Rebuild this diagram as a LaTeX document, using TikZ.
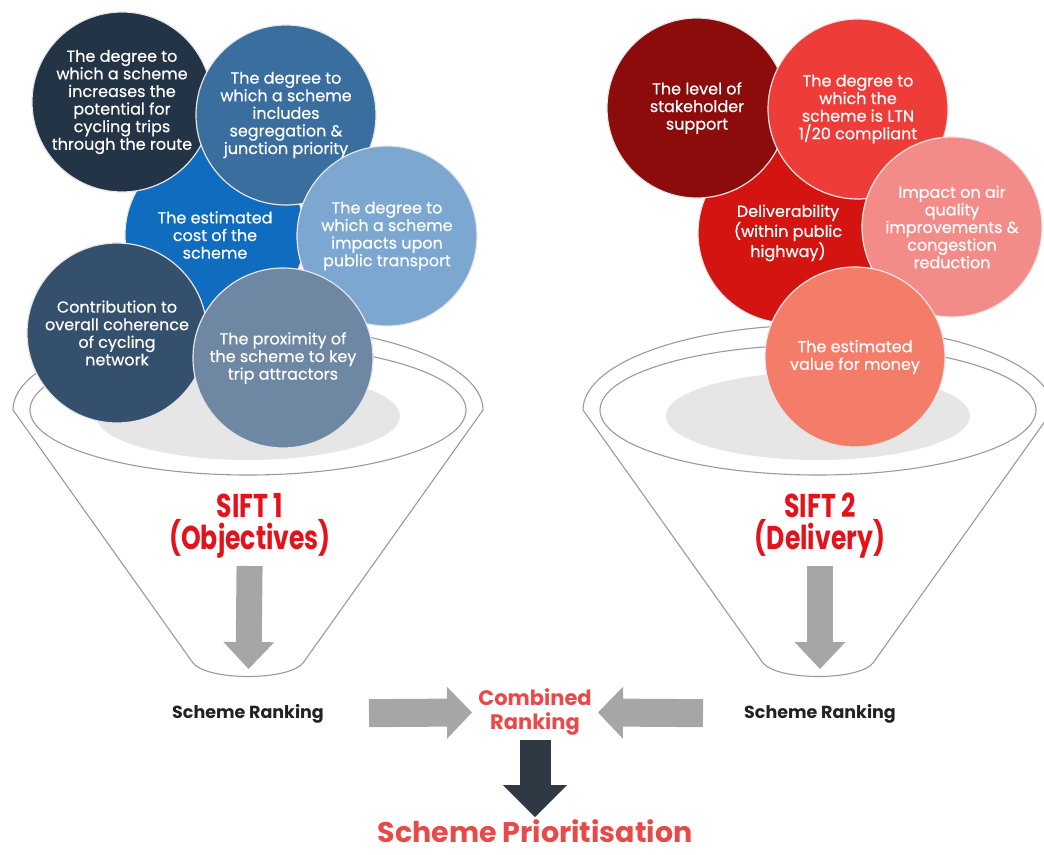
\documentclass[tikz,border=0pt]{standalone}
\usepackage{fontspec}
\setmainfont{Poppins}
\newfontfamily\bubblefont[FakeBold=0.5]{Poppins}
\newfontfamily\siftfont[FakeStretch=0.76]{Poppins}
\usetikzlibrary{arrows.meta,positioning}
\definecolor{bnavy}{HTML}{243447}
\definecolor{bsteel}{HTML}{3A6E9E}
\definecolor{bbright}{HTML}{106CBE}
\definecolor{blight}{HTML}{7BA7D0}
\definecolor{bslate}{HTML}{34506D}
\definecolor{bgreyblue}{HTML}{6E87A2}
\definecolor{rdark}{HTML}{8C0B0B}
\definecolor{rmid}{HTML}{EE3D39}
\definecolor{rbright}{HTML}{D41411}
\definecolor{rpink}{HTML}{F38C88}
\definecolor{rcoral}{HTML}{F47D6A}
\definecolor{funnelgrey}{HTML}{9A9A9A}
\definecolor{shadowgrey}{HTML}{E6E6E6}
\definecolor{siftred}{HTML}{E3121B}
\definecolor{combred}{HTML}{E84A4A}
\definecolor{rankgrey}{HTML}{222222}
\definecolor{arrowgrey}{HTML}{A6A6A6}
\definecolor{arrowdark}{HTML}{2F3943}

\begin{document}
\begin{tikzpicture}[x=1pt,y=-1pt,
    bubble/.style={circle,minimum size=180pt,inner sep=0pt,draw=white!90!black,line width=1.2pt,
      text=white,align=center,font=\bubblefont\fontsize{16}{17.6}\selectfont},
    funnel/.style={draw=funnelgrey,line width=1.1pt},
    sift/.style={text=siftred,align=center,inner sep=0pt,font=\siftfont\bfseries\fontsize{33}{32}\selectfont},
    rank/.style={text=rankgrey,inner sep=0pt,font=\bfseries\fontsize{17.5}{20}\selectfont},
    redtext/.style={text=combred,align=center,inner sep=0pt},
    blockarrow/.style={line width=26pt,draw=arrowgrey,-{Triangle[length=27pt,width=51pt,line width=0pt]}}]
  \useasboundingbox (0,0) rectangle (1044,854);

  % funnels
  \foreach \cx in {248,818} {
    \fill[shadowgrey] (\cx,416) ellipse (152 and 44);
    \draw[funnel] (\cx-235,410) arc (180:360:235 and 85) -- (\cx+55,663)
      .. controls (\cx+40,681) and (\cx-40,681) .. (\cx-55,663) -- cycle;
    \draw[funnel] (\cx,410) ellipse (218 and 65);
  }

  % objectives
  \node[bubble,fill=bbright] (cost) at (215,235) {The estimated\\cost of the\\scheme};
  \node[bubble,fill=bnavy] (potential) at (122,102) {The degree to\\which a scheme\\increases the\\potential for\\cycling trips\\through the route};
  \node[bubble,fill=bsteel] (segregation) at (286,115) {The degree to\\which a scheme\\includes\\segregation \&\\junction priority};
  \node[bubble,fill=blight] (transport) at (387,236) {The degree to\\which a scheme\\impacts upon\\public transport};
  \node[bubble,fill=bslate] (coherence) at (117,333) {Contribution to\\overall coherence\\of cycling\\network};
  \node[bubble,fill=bgreyblue] (proximity) at (283,358) {The proximity of\\the scheme to key\\trip attractors};

  % delivery
  \node[bubble,fill=rbright] (deliver) at (788,233) {Deliverability\\(within public\\highway)};
  \node[bubble,fill=rdark] (support) at (697,108) {The level of\\stakeholder\\support};
  \node[bubble,fill=rmid] (ltn) at (858,109) {The degree to\\which the\\scheme is LTN\\1/20 compliant};
  \node[bubble,fill=rpink] (air) at (952,227) {Impact on air\\quality\\improvements \&\\congestion\\reduction};
  \node[bubble,fill=rcoral] (value) at (855,357) {The estimated\\value for money};

  \node[sift] (sift1) at (250,526) {SIFT 1\\(Objectives)};
  \node[sift] (sift2) at (820,526) {SIFT 2\\(Delivery)};
  \node[rank] (rank1) at (248,714) {Scheme Ranking};
  \node[rank] (rank2) at (820,714) {Scheme Ranking};
  \node[redtext,font=\bfseries\fontsize{21}{24}\selectfont] (comb) at (535,712) {Combined\\Ranking};
  \node[redtext,font=\bfseries\fontsize{28.5}{32}\selectfont] (prio) at (535,831) {Scheme Prioritisation};

  \draw[blockarrow,shorten <=40pt,shorten >=45pt] (sift1.center) -- (rank1.center);
  \draw[blockarrow,shorten <=40pt,shorten >=45pt] (sift2.center) -- (rank2.center);
  \draw[blockarrow,line width=28pt,-{Triangle[length=25pt,width=52pt,line width=0pt]},
    shorten <=121pt,shorten >=63pt] (rank1.center) -- (comb.center);
  \draw[blockarrow,line width=28pt,-{Triangle[length=25pt,width=52pt,line width=0pt]},
    shorten <=117pt,shorten >=63pt] (rank2.center) -- (comb.center);
  \draw[blockarrow,draw=arrowdark,line width=31pt,-{Triangle[length=32pt,width=64pt,line width=0pt]},
    shorten <=28pt,shorten >=14pt] (comb.center) -- (prio.center);
\end{tikzpicture}
\end{document}
